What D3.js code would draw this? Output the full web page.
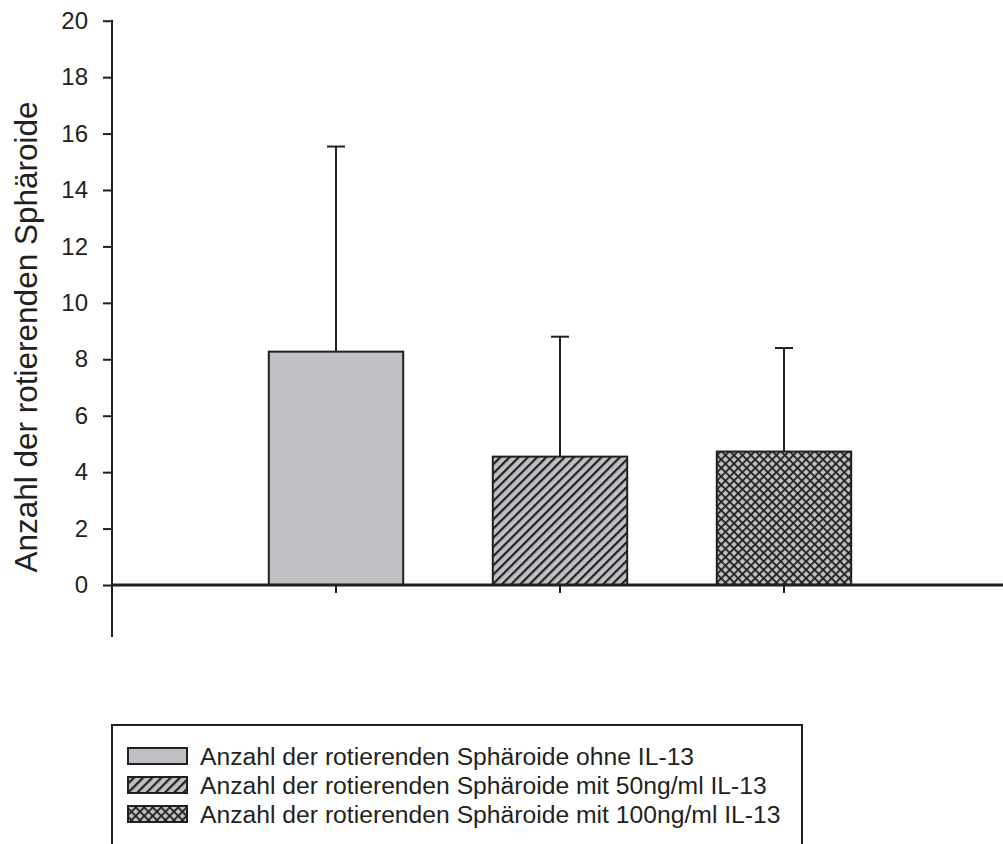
<!DOCTYPE html>
<html>
<head>
<meta charset="utf-8">
<script src="https://cdn.jsdelivr.net/npm/d3@7"></script>
<style>
  html, body { margin: 0; padding: 0; background: #fff; }
  svg { display: block; font-family: "Liberation Sans", Arial, sans-serif; }
</style>
</head>
<body>
<svg id="chart" width="1003" height="844"></svg>
<script>
// Mean number of rotating spheroids per condition, with upper error (mean + SD)
const categories = ["ohne IL-13", "mit 50ng/ml IL-13", "mit 100ng/ml IL-13"];
const means = [8.27, 4.55, 4.73];
const errorTops = [15.54, 8.8, 8.4];
const patterns = ["solid", "hatch", "cross"];
const legendLabels = [
  "Anzahl der rotierenden Sphäroide ohne IL-13",
  "Anzahl der rotierenden Sphäroide mit 50ng/ml IL-13",
  "Anzahl der rotierenden Sphäroide mit 100ng/ml IL-13"
];
const yTicks = [0, 2, 4, 6, 8, 10, 12, 14, 16, 18, 20];
const yTitle = "Anzahl der rotierenden Sphäroide";

const ink = "#231f20";
const grey = "#bfc0c4";

const svg = d3.select("#chart");

// Fill patterns
const defs = svg.append("defs");
const hatch = defs.append("pattern")
  .attr("id", "hatch").attr("patternUnits", "userSpaceOnUse")
  .attr("width", 6.5).attr("height", 6.5)
  .attr("patternTransform", "rotate(45)");
hatch.append("rect").attr("width", 6.5).attr("height", 6.5).attr("fill", grey);
hatch.append("rect").attr("x", 0).attr("y", 0).attr("width", 2.2).attr("height", 6.5).attr("fill", ink);

const cross = defs.append("pattern")
  .attr("id", "cross").attr("patternUnits", "userSpaceOnUse")
  .attr("width", 6).attr("height", 6)
  .attr("patternTransform", "rotate(45)");
cross.append("rect").attr("width", 6).attr("height", 6).attr("fill", grey);
cross.append("rect").attr("x", 0).attr("y", 0).attr("width", 1.8).attr("height", 6).attr("fill", ink);
cross.append("rect").attr("x", 0).attr("y", 0).attr("width", 6).attr("height", 1.8).attr("fill", ink);

const fillFor = p => p === "solid" ? grey : `url(#${p})`;

// Scales
const y = d3.scaleLinear().domain([0, 20]).range([585, 20.7]);
const x = d3.scaleBand().domain(categories).range([224, 896])
  .paddingInner(0.4).paddingOuter(0.2);

const axisX = 112;

// Y axis
const yAxis = d3.axisLeft(y).tickValues(yTicks).tickSize(9).tickPadding(15);
const gy = svg.append("g").attr("transform", `translate(${axisX},0)`).call(yAxis);
gy.select(".domain").remove();
gy.selectAll(".tick line").attr("stroke", ink).attr("stroke-width", 2);
gy.selectAll(".tick text").attr("font-size", 24).attr("fill", ink)
  .attr("font-family", "Liberation Sans, Arial, sans-serif");
svg.append("line")
  .attr("x1", axisX).attr("x2", axisX)
  .attr("y1", y(20) - 1).attr("y2", 637)
  .attr("stroke", ink).attr("stroke-width", 2);

// Y title
svg.append("text")
  .attr("transform", "translate(37,337) rotate(-90)")
  .attr("text-anchor", "middle")
  .attr("font-size", 31.5)
  .attr("fill", ink)
  .text(yTitle);

const data = categories.map((c, i) => ({ c, m: means[i], e: errorTops[i], p: patterns[i] }));

// Error bars (upper only)
const err = svg.append("g");
data.forEach(d => {
  const cx = x(d.c) + x.bandwidth() / 2;
  err.append("line").attr("x1", cx).attr("x2", cx)
    .attr("y1", y(d.m)).attr("y2", y(d.e))
    .attr("stroke", ink).attr("stroke-width", 2);
  err.append("line").attr("x1", cx - 9).attr("x2", cx + 9)
    .attr("y1", y(d.e)).attr("y2", y(d.e))
    .attr("stroke", ink).attr("stroke-width", 2);
});

// Bars
svg.append("g").selectAll("rect").data(data).join("rect")
  .attr("x", d => x(d.c))
  .attr("y", d => y(d.m))
  .attr("width", x.bandwidth())
  .attr("height", d => y(0) - y(d.m))
  .attr("fill", d => fillFor(d.p))
  .attr("stroke", ink).attr("stroke-width", 2);

// X axis baseline and ticks
const xAxis = d3.axisBottom(x).tickSize(8).tickFormat("");
const gx = svg.append("g").attr("transform", `translate(0,${y(0)})`).call(xAxis);
gx.select(".domain").remove();
gx.selectAll(".tick line").attr("stroke", ink).attr("stroke-width", 2);
svg.append("line")
  .attr("x1", axisX - 1).attr("x2", 1003)
  .attr("y1", y(0)).attr("y2", y(0))
  .attr("stroke", ink).attr("stroke-width", 3);

// Legend
const legend = svg.append("g");
legend.append("rect")
  .attr("x", 112).attr("y", 725).attr("width", 690).attr("height", 140)
  .attr("fill", "none").attr("stroke", ink).attr("stroke-width", 2);
const rowY = d3.scalePoint().domain(d3.range(legendLabels.length)).range([748, 806]);
legendLabels.forEach((lab, i) => {
  legend.append("rect")
    .attr("x", 128).attr("y", rowY(i)).attr("width", 59).attr("height", 16)
    .attr("fill", fillFor(patterns[i]))
    .attr("stroke", ink).attr("stroke-width", 2);
  legend.append("text")
    .attr("x", 200).attr("y", rowY(i) + 17)
    .attr("font-size", 24.7).attr("fill", ink)
    .text(lab);
});
</script>
</body>
</html>
